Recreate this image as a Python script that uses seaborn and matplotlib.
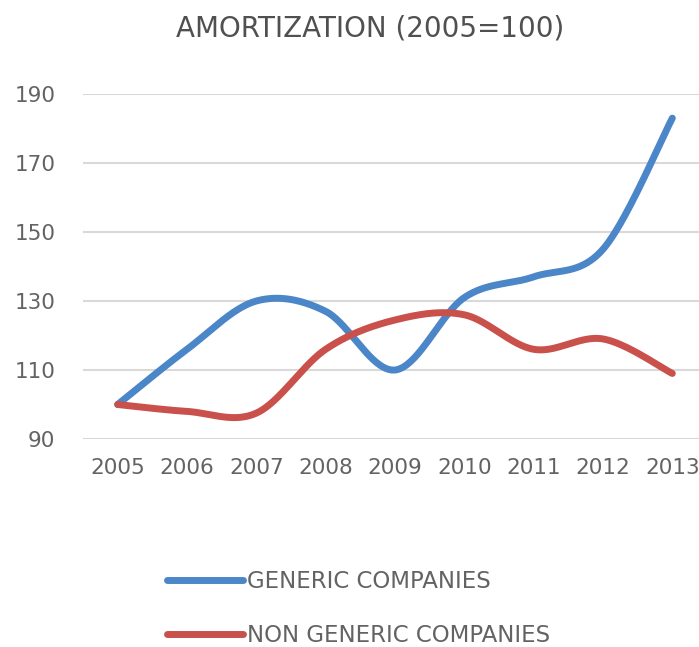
import numpy as np
import pandas as pd
import seaborn as sns
import matplotlib
import matplotlib.pyplot as plt
from matplotlib.lines import Line2D

matplotlib.use("Agg")
sns.set_theme(style="white")
plt.rcParams["font.family"] = ["DejaVu Sans"]

years = [2005, 2006, 2007, 2008, 2009, 2010, 2011, 2012, 2013]
generic = [100, 116, 130, 127, 110, 131, 137, 145, 183]
non_generic = [100, 98, 97.5, 116, 124.5, 126, 116, 119, 109]

series_names = ["GENERIC COMPANIES", "NON GENERIC COMPANIES"]
colors = ["#4a86c8", "#c9504b"]


def smooth(xs, ys, n=40):
    # Excel-style smoothed line (Catmull-Rom through the points)
    p = np.column_stack([xs, ys]).astype(float)
    p = np.vstack([p[0], p, p[-1]])
    out = []
    t = np.linspace(0, 1, n)[:, None]
    for i in range(1, len(p) - 2):
        p0, p1, p2, p3 = p[i - 1], p[i], p[i + 1], p[i + 2]
        b1 = p1 + (p2 - p0) / 6
        b2 = p2 - (p3 - p1) / 6
        seg = ((1 - t) ** 3) * p1 + 3 * ((1 - t) ** 2) * t * b1 + 3 * (1 - t) * t ** 2 * b2 + t ** 3 * p2
        out.append(seg if i == 1 else seg[1:])
    out = np.vstack(out)
    return out[:, 0], out[:, 1]


frames = []
for name, vals in zip(series_names, [generic, non_generic]):
    sx, sy = smooth(np.arange(len(years)), vals)
    frames.append(pd.DataFrame({"x": sx, "y": sy, "series": name}))
df = pd.concat(frames, ignore_index=True)

fig = plt.figure(figsize=(6.99, 6.47), dpi=100)
ax = fig.add_axes([83 / 699, 1 - 439 / 647, (707 - 83) / 699, 345 / 647])

sns.lineplot(
    data=df, x="x", y="y", hue="series", palette=colors, sort=False,
    estimator=None, linewidth=5, legend=False, ax=ax,
)
for line in ax.get_lines():
    line.set_solid_capstyle("round")
    line.set_clip_on(False)

ax.set_xlim(-0.5, len(years) - 0.5)
ax.set_ylim(90, 190)
ax.set_yticks(range(90, 191, 20))
ax.set_xticks(range(len(years)))
ax.set_xticklabels([str(y) for y in years])
ax.yaxis.grid(True, color="#d9d9d9", linewidth=1.5)
ax.set_axisbelow(True)
for s in ax.spines.values():
    s.set_visible(False)
ax.tick_params(axis="y", length=0, pad=20, labelsize=15.5, labelcolor="#636363")
ax.tick_params(axis="x", length=0, pad=14, labelsize=15.5, labelcolor="#636363")
ax.set_xlabel("")
ax.set_ylabel("")

fig.text(370 / 699, 1 - 28 / 647, "AMORTIZATION (2005=100)", ha="center", va="center",
         fontsize=20, color="#505050")

handles = [Line2D([0], [0], color=c, linewidth=5, solid_capstyle="round") for c in colors]
fig.legend(
    handles, series_names, loc="center left", bbox_to_anchor=(167 / 699, 1 - 608.5 / 647),
    frameon=False, fontsize=16.5, handlelength=3.3, handletextpad=0.2, labelspacing=1.35,
    borderpad=0, borderaxespad=0, labelcolor="#636363",
)

fig.savefig("out.png", dpi=100)
